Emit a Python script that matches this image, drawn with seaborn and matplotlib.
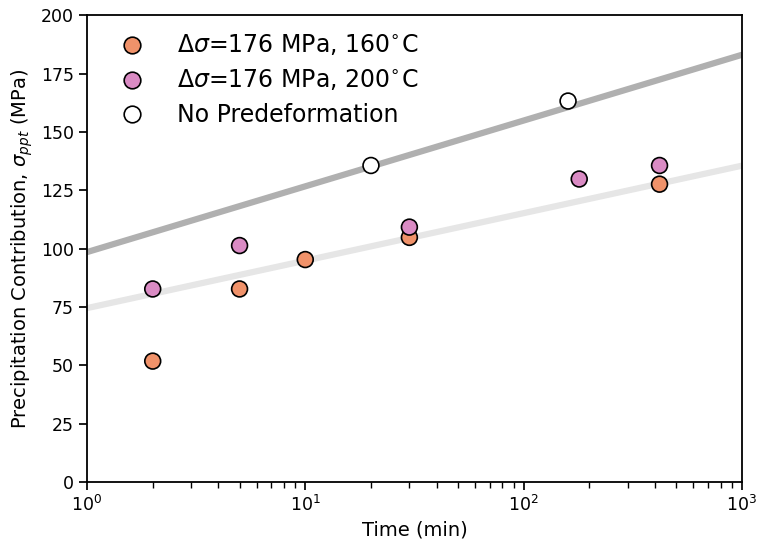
import numpy as np
import pandas as pd
import seaborn as sns
import matplotlib.pyplot as plt

# data
t_160 = [2, 5, 10, 30, 420]
s_160 = [51.8, 82.7, 95.3, 104.8, 127.6]
t_200 = [2, 5, 30, 180, 420]
s_200 = [82.7, 101.3, 109.2, 129.8, 135.6]
t_none = [20, 160]
s_none = [135.6, 163.2]

# trend lines (end points at 1 and 1000 min)
line_t = [1, 1000]
line_none = [98.5, 183.0]
line_pre = [74.5, 135.5]

labels = [r"$\Delta\sigma$=176 MPa, 160$^{\circ}$C",
          r"$\Delta\sigma$=176 MPa, 200$^{\circ}$C",
          "No Predeformation"]

sns.set_theme(style="ticks")
plt.rcParams['font.family'] = ['DejaVu Sans']
plt.rcParams['mathtext.fontset'] = 'dejavusans'
for k in ["text.color", "axes.labelcolor", "xtick.color", "ytick.color", "axes.edgecolor"]:
    plt.rcParams[k] = "black"

colors = ["#f0926a", "#da8bc4", "white"]

df = pd.concat([
    pd.DataFrame({"t": t_160, "s": s_160, "grp": labels[0]}),
    pd.DataFrame({"t": t_200, "s": s_200, "grp": labels[1]}),
    pd.DataFrame({"t": t_none, "s": s_none, "grp": labels[2]}),
])

fig, ax = plt.subplots(figsize=(7.6, 5.41), dpi=100)
fig.subplots_adjust(left=0.1145, right=0.976, bottom=0.109, top=0.972)

ax.plot(line_t, line_none, color="#b0b0b0", lw=4.5, zorder=1)
ax.plot(line_t, line_pre, color="#e6e6e6", lw=4.5, zorder=1)

sns.scatterplot(data=df, x="t", y="s", hue="grp", palette=colors, s=130,
                edgecolor="black", linewidth=1.2, zorder=3, ax=ax)

ax.set_xscale("log")
ax.set_xlim(1, 1000)
ax.set_ylim(0, 200)
ax.set_yticks(np.arange(0, 201, 25))
ax.set_xlabel("Time (min)", fontsize=14)
ax.set_ylabel(r"Precipitation Contribution, $\sigma_{ppt}$ (MPa)", fontsize=14)
ax.tick_params(labelsize=12.5)
for sp in ax.spines.values():
    sp.set_linewidth(1.3)

leg = ax.legend(loc="upper left", frameon=False, fontsize=17, markerscale=1.05,
                handletextpad=0.9, labelspacing=0.42, borderaxespad=0.35,
                bbox_to_anchor=(0.006, 1.0))
for h in leg.legend_handles:
    h.set_markeredgecolor("black")

fig.savefig("out.png", dpi=100)
